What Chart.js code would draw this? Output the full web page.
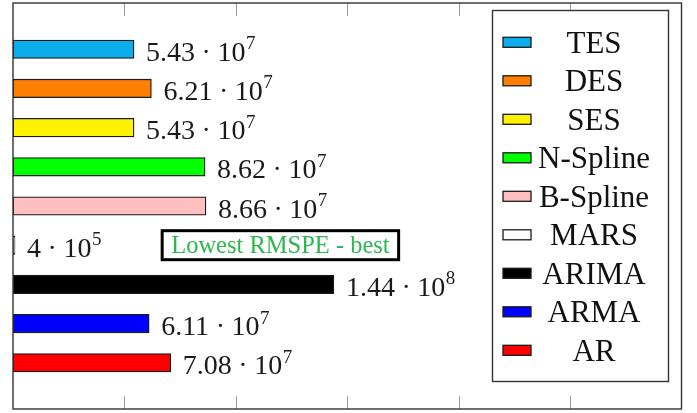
<!DOCTYPE html>
<html>
<head>
<meta charset="utf-8">
<script src="https://cdn.jsdelivr.net/npm/chart.js@4/dist/chart.umd.min.js"></script>
<style>
  html, body { margin: 0; padding: 0; background: #fff; }
  #wrap { width: 697px; height: 413px; }
</style>
</head>
<body>
<div id="wrap"><canvas id="c" width="697" height="413"></canvas></div>
<script>
// RMSPE of each forecasting model (top to bottom)
const models = ['TES', 'DES', 'SES', 'N-Spline', 'B-Spline', 'MARS', 'ARIMA', 'ARMA', 'AR'];
const rmspe  = [5.43e7, 6.21e7, 5.43e7, 8.62e7, 8.66e7, 4e5, 1.44e8, 6.11e7, 7.08e7];
const fills  = ['#0BADEA', '#FF8000', '#FFF200', '#00FF00', '#FFBFBF', '#FFFFFF', '#000000', '#0000FF', '#FF0000'];
const xTicks = [0, 5e7, 1e8, 1.5e8, 2e8, 2.5e8, 3e8];
const noteText = 'Lowest RMSPE - best';

const SERIF = "'Liberation Serif', 'Times New Roman', 'DejaVu Serif', serif";

// split a value into mantissa and power of ten, e.g. 5.43e7 -> ['5.43', '7']
function sciParts(v) {
  const e = Math.floor(Math.log10(v) + 1e-9);
  const m = parseFloat((v / Math.pow(10, e)).toFixed(2));
  return [String(m), String(e)];
}

// one dataset per model so that every bar gets its own legend entry
const datasets = models.map((name, i) => ({
  label: name,
  data: [{ x: rmspe[i], y: i }],
  backgroundColor: fills[i],
  borderColor: '#1a1a1a',
  borderWidth: 1.3,
  borderSkipped: false,
  barThickness: 18.5,
  minBarLength: 2,
  grouped: false
}));

// frame around the plot with short inward ticks at top and bottom
const framePlugin = {
  id: 'frame',
  afterDraw(chart) {
    const { ctx, chartArea: a } = chart;
    const xs = chart.scales.x;
    ctx.save();
    ctx.strokeStyle = '#9a9a9a';
    ctx.lineWidth = 1;
    xTicks.slice(1, -1).forEach(t => {
      const px = Math.round(xs.getPixelForValue(t)) + 0.5;
      ctx.beginPath();
      ctx.moveTo(px, a.top); ctx.lineTo(px, a.top + 13);
      ctx.moveTo(px, a.bottom); ctx.lineTo(px, a.bottom - 13);
      ctx.stroke();
    });
    ctx.strokeStyle = '#333';
    ctx.lineWidth = 1.4;
    ctx.strokeRect(a.left, a.top, a.right - a.left, a.bottom - a.top);
    ctx.restore();
  }
};

// value labels written as  m · 10^e  just past the end of each bar
const valueLabels = {
  id: 'valueLabels',
  afterDatasetsDraw(chart) {
    const ctx = chart.ctx;
    ctx.save();
    ctx.fillStyle = '#1a1a1a';
    ctx.textBaseline = 'alphabetic';
    chart.data.datasets.forEach((ds, i) => {
      const el = chart.getDatasetMeta(i).data[0];
      if (!el) return;
      const [m, e] = sciParts(ds.data[0].x);
      let x = Math.max(el.x, el.base + 2) + 12;
      const base = el.y + 11.5;
      ctx.font = '28px ' + SERIF;
      ctx.textAlign = 'left';
      ctx.fillText(m, x, base);
      x += ctx.measureText(m).width;
      ctx.textAlign = 'center';
      ctx.fillText('\u00B7', x + 11.2, base);
      ctx.textAlign = 'left';
      x += 22.4;
      ctx.fillText('10', x, base);
      x += ctx.measureText('10').width + 0.5;
      ctx.font = '19px ' + SERIF;
      ctx.fillText(e, x, base - 11.5);
    });
    ctx.restore();
  }
};

// boxed note next to the MARS bar
const notePlugin = {
  id: 'note',
  afterDatasetsDraw(chart, args, opts) {
    const ctx = chart.ctx;
    const cx = chart.scales.x.getPixelForValue(opts.x);
    const cy = chart.scales.y.getPixelForValue(opts.y);
    ctx.save();
    ctx.font = '24.5px ' + SERIF;
    const w = ctx.measureText(noteText).width + 18;
    const h = 29;
    ctx.fillStyle = '#fff';
    ctx.fillRect(cx - w / 2, cy - h / 2, w, h);
    ctx.strokeStyle = '#000';
    ctx.lineWidth = 3;
    ctx.strokeRect(cx - w / 2, cy - h / 2, w, h);
    ctx.fillStyle = '#2DB84F';
    ctx.textAlign = 'center';
    ctx.textBaseline = 'alphabetic';
    ctx.fillText(noteText, cx, cy + 8);
    ctx.restore();
  }
};

// legend box inside the plot on the right
const legendBox = {
  id: 'legendBox',
  afterDraw(chart) {
    const ctx = chart.ctx;
    const L = 492.5, T = 10.5, R = 668.5, B = 381.5;
    ctx.save();
    ctx.fillStyle = '#fff';
    ctx.fillRect(L, T, R - L, B - T);
    ctx.strokeStyle = '#333';
    ctx.lineWidth = 1.4;
    ctx.strokeRect(L, T, R - L, B - T);
    ctx.font = '31px ' + SERIF;
    ctx.textAlign = 'center';
    ctx.textBaseline = 'alphabetic';
    chart.data.datasets.forEach((ds, i) => {
      const cy = 42.3 + i * 38.5;
      ctx.fillStyle = ds.backgroundColor;
      ctx.fillRect(503, cy - 5, 28, 10);
      ctx.strokeStyle = '#1a1a1a';
      ctx.lineWidth = 1.3;
      ctx.strokeRect(503, cy - 5, 28, 10);
      ctx.fillStyle = '#111';
      ctx.fillText(ds.label, 594, cy + 10.5);
    });
    ctx.restore();
  }
};

new Chart(document.getElementById('c'), {
  type: 'bar',
  data: { datasets },
  options: {
    indexAxis: 'y',
    responsive: false,
    animation: false,
    devicePixelRatio: 1,
    layout: { padding: { left: 13, top: 3, right: 15.5, bottom: 4 } },
    scales: {
      x: { type: 'linear', min: xTicks[0], max: xTicks[xTicks.length - 1], offset: false, display: false },
      y: { type: 'linear', min: -1.18, max: models.length - 1 + 1.18, reverse: true, offset: false, display: false }
    },
    plugins: {
      legend: { display: false },
      tooltip: { enabled: false },
      note: { x: 1.2e8, y: 5 }
    }
  },
  plugins: [framePlugin, valueLabels, notePlugin, legendBox]
});
</script>
</body>
</html>
